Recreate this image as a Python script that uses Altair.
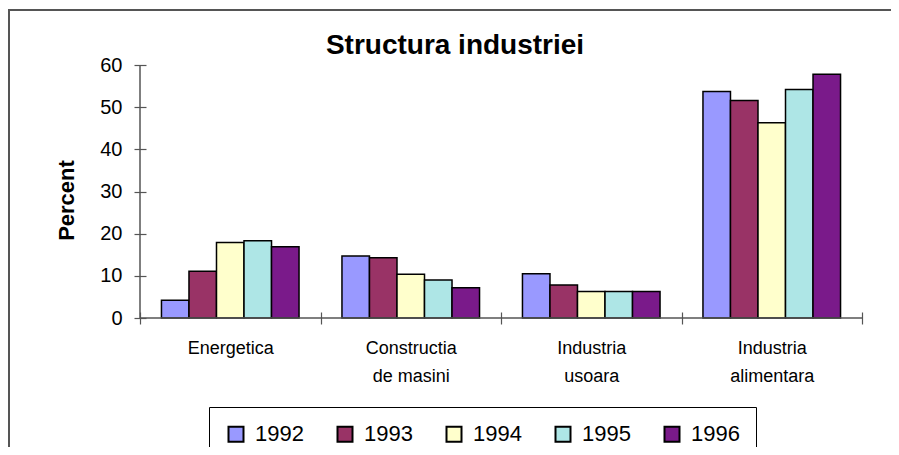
import altair as alt
import pandas as pd

categories = ["Energetica", "Constructia de masini", "Industria usoara", "Industria alimentara"]
years = ["1992", "1993", "1994", "1995", "1996"]
values = {
    "1992": [4.2, 14.7, 10.5, 53.7],
    "1993": [11.1, 14.3, 7.8, 51.6],
    "1994": [17.9, 10.4, 6.3, 46.3],
    "1995": [18.3, 9.0, 6.3, 54.2],
    "1996": [16.9, 7.2, 6.3, 57.8],
}
colors = ["#9999FF", "#993366", "#FFFFCC", "#AEE6E6", "#7A1A8A"]
y_ticks = [0, 10, 20, 30, 40, 50, 60]

rows = []
for yr in years:
    for cat, v in zip(categories, values[yr]):
        rows.append({"cat": cat, "year": yr, "value": v})
df = pd.DataFrame(rows)

W, H = 722, 253
FONT = "Liberation Sans"

label_expr = ("indexof(datum.label,' ') > 0 ? [slice(datum.label,0,indexof(datum.label,' ')), "
              "slice(datum.label,indexof(datum.label,' ')+1)] : datum.label")

y_scale = alt.Scale(domain=[0, 60], nice=False)

bars = alt.Chart(df).mark_bar(stroke="black", strokeWidth=1.5).encode(
    x=alt.X("cat:N", sort=categories, title=None,
            scale=alt.Scale(paddingInner=0, paddingOuter=0),
            axis=alt.Axis(labelExpr=label_expr, labelAngle=0, tickBand="extent",
                          domain=False, offset=-6, tickSize=12, tickColor="#555",
                          tickWidth=1.2, labelFontSize=18, labelFont=FONT,
                          labelColor="black", labelPadding=15, labelLineHeight=28,
                          labelBaseline="top")),
    xOffset=alt.XOffset("year:N", sort=years,
                        scale=alt.Scale(paddingInner=0, paddingOuter=0.78)),
    y=alt.Y("value:Q", scale=y_scale, title="Percent",
            axis=alt.Axis(values=y_ticks, domain=False, offset=-6, tickSize=12,
                          tickColor="#555", tickWidth=1.2, labelFontSize=20,
                          labelFont=FONT, labelColor="black", labelPadding=12,
                          titleFont=FONT, titleFontSize=22, titleFontWeight="bold",
                          titleColor="black", titleX=-80, titleY=135,
                          titleAlign="center", titleBaseline="middle", titleAngle=270)),
    color=alt.Color("year:N", sort=years,
                    scale=alt.Scale(domain=years, range=colors),
                    legend=alt.Legend(title=None, orient="none", direction="horizontal",
                                      legendX=69, legendY=342, symbolType="square",
                                      symbolSize=225, symbolStrokeColor="black",
                                      symbolStrokeWidth=2, symbolOpacity=1,
                                      labelFont=FONT, labelFontSize=22,
                                      labelColor="black", labelOffset=8,
                                      columnPadding=29, padding=16,
                                      strokeColor="black")),
)

one = pd.DataFrame({"a": [0]})
y_domain = alt.Chart(one).mark_rule(color="#555", strokeWidth=1.5).encode(
    x=alt.value(0), y=alt.datum(0, scale=y_scale), y2=alt.datum(60))
x_domain = alt.Chart(one).mark_rule(color="#555", strokeWidth=1.5).encode(
    x=alt.value(0), x2=alt.value(W), y=alt.datum(0, scale=y_scale))
frame = alt.Chart(one).mark_rect(fill=None, stroke="#555", strokeWidth=2).encode(
    x=alt.value(-131), x2=alt.value(W + 100), y=alt.value(-55), y2=alt.value(H + 200))

chart = alt.layer(frame, bars, y_domain, x_domain).properties(
    width=W, height=H,
    title=alt.TitleParams("Structura industriei", font=FONT, fontSize=28,
                          fontWeight="bold", color="black", anchor="middle",
                          dx=-46, dy=55),
    autosize=alt.AutoSizeParams(type="none"),
    padding={"left": 132, "top": 57, "right": 29, "bottom": 129},
    background="white",
).configure_view(stroke=None).configure_axis(grid=False)

chart.save("out.html", embed_options={"renderer": "svg", "actions": False})
